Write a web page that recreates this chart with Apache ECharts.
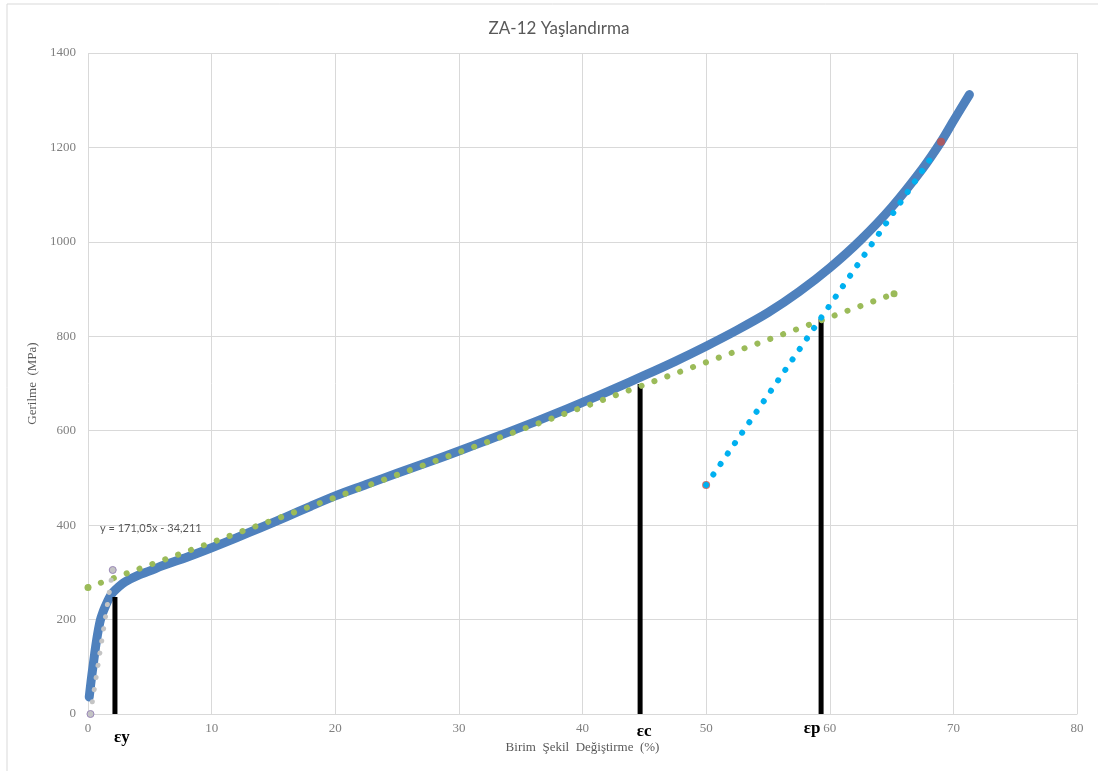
<!DOCTYPE html>
<html>
<head>
<meta charset="utf-8">
<script src="https://cdn.jsdelivr.net/npm/echarts@6/dist/echarts.min.js"></script>
<style>
  html, body { margin: 0; padding: 0; background: #ffffff; }
  #chart { width: 1098px; height: 771px; }
</style>
</head>
<body>
<div id="chart"></div>
<script>
// ---- Data ----
const titleText = 'ZA-12 Yaşlandırma';
const xAxisName = 'Birim  Şekil  Değiştirme  (%)';
const yAxisName = 'Gerilme  (MPa)';

// Main stress-strain curve
const strain = [0.1, 0.25, 0.4, 0.55, 0.7, 0.85, 1.0, 1.2, 1.4, 1.7, 2.0, 2.5, 3.0, 4, 5, 6, 8, 10, 12, 14, 16, 18, 20, 22.5, 25, 27.5, 30, 32.5, 35, 37.5, 40, 42.5, 45, 47.5, 50, 52.5, 55, 57.5, 60, 62.5, 65, 67.5, 69, 70, 71.3];
const stress = [36, 70, 100, 130, 157, 180, 199, 215, 228, 245, 257, 270, 280, 293, 303, 314, 332, 352, 373, 395, 417, 440, 462, 486, 510, 533, 557, 582, 607, 633, 660, 688, 717, 747, 779, 813, 850, 894, 945, 1004, 1073, 1155, 1212, 1256, 1312];

// Elastic fit  y = 171,05x - 34,211
const elasticX = [0.2, 2.0];
const elasticY = [0, 305];
const elasticEq = 'y = 171,05x - 34,211';
const elasticEqPos = [0.97, 393];

// Linear fit of the plastic region (green)
const plasticFitX = [0, 65.2];
const plasticFitY = [268, 890];

// Steep fit of the upper region (cyan)
const upperFitX = [50, 68.6];
const upperFitY = [485, 1193];

// Red marked points
const redX = [50, 69];
const redY = [485, 1212];

// Vertical strain markers
const markerLabels = ['εy', 'εc', 'εp'];
const markerX = [2.18, 44.66, 59.3];
const markerY = [248, 699, 837];

// Axis ranges
const xMin = 0, xMax = 80, xStep = 10;
const yMin = 0, yMax = 1400, yStep = 200;

// ---- Build ----
const zip = (a, b) => a.map((v, i) => [v, b[i]]);
const serif = '"Liberation Serif", "DejaVu Serif", serif';

const series = [
  {
    name: 'curve', type: 'line', data: zip(strain, stress),
    showSymbol: false, smooth: 0.3,
    lineStyle: { color: '#4f81bd', width: 9, cap: 'round', join: 'round' },
    z: 2
  },
  {
    name: 'red', type: 'scatter', data: zip(redX, redY),
    symbolSize: 8, itemStyle: { color: '#c0504d' }, z: 3
  }
];
markerX.forEach((x, i) => {
  series.push({
    name: 'marker' + i, type: 'line', data: [[x, 0], [x, markerY[i]]],
    showSymbol: false,
    lineStyle: { color: '#000000', width: 5, cap: 'butt' }, z: 4
  });
});
series.push(
  {
    name: 'plasticFit', type: 'line', data: zip(plasticFitX, plasticFitY),
    symbol: 'circle', symbolSize: 7, itemStyle: { color: '#9bbb59' },
    lineStyle: { color: '#9bbb59', width: 6, type: [0.1, 13.6], cap: 'round' }, z: 5
  },
  {
    name: 'upperFit', type: 'line', data: zip(upperFitX, upperFitY),
    showSymbol: false,
    lineStyle: { color: '#00b0f0', width: 6, type: [0.1, 12.6], cap: 'round' }, z: 5
  },
  {
    name: 'elasticFit', type: 'line', data: zip(elasticX, elasticY),
    symbol: 'circle', symbolSize: 7,
    itemStyle: { color: '#c4c4c4', borderColor: '#9a88b8', borderWidth: 1 },
    lineStyle: { color: '#c4c4c4', width: 5, type: [0.1, 12.2], cap: 'round' }, z: 6
  }
);

const chart = echarts.init(document.getElementById('chart'), null, { renderer: 'canvas' });
chart.setOption({
  animation: false,
  backgroundColor: '#ffffff',
  title: {
    text: titleText, left: 554, top: 15, textAlign: 'center',
    textStyle: { fontFamily: 'Lato, "Open Sans", sans-serif', fontSize: 17, fontWeight: 'normal', color: '#595959' }
  },
  grid: { left: 88, right: 21, top: 53, bottom: 57, containLabel: false },
  xAxis: {
    type: 'value', min: xMin, max: xMax, interval: xStep,
    name: xAxisName, nameLocation: 'middle', nameGap: 27,
    nameTextStyle: { fontFamily: serif, fontSize: 13, color: '#595959' },
    axisLine: { show: true, lineStyle: { color: '#d9d9d9' } },
    axisTick: { show: false },
    axisLabel: { fontFamily: serif, fontSize: 13, color: '#808080', margin: 8, formatter: v => String(v) },
    splitLine: { show: true, lineStyle: { color: '#d9d9d9', width: 1 } }
  },
  yAxis: {
    type: 'value', min: yMin, max: yMax, interval: yStep,
    name: yAxisName, nameLocation: 'middle', nameGap: 36, nameRotate: 90,
    nameTextStyle: { fontFamily: serif, fontSize: 13, color: '#595959' },
    axisLine: { show: false },
    axisTick: { show: false },
    axisLabel: { fontFamily: serif, fontSize: 13, color: '#808080', margin: 12, formatter: v => String(v) },
    splitLine: { show: true, lineStyle: { color: '#d9d9d9', width: 1 } }
  },
  series: series
});

// Text annotations positioned through the chart's own scales
const labelOffsets = [[7, 24], [4, 18], [-9, 15]];
const graphics = [
  { type: 'line', shape: { x1: 7, y1: 4, x2: 7, y2: 771 }, style: { stroke: '#d9d9d9', lineWidth: 1 }, silent: true },
  { type: 'line', shape: { x1: 7, y1: 4, x2: 1098, y2: 4 }, style: { stroke: '#d9d9d9', lineWidth: 1 }, silent: true }
];
markerX.forEach((x, i) => {
  const p = chart.convertToPixel({ gridIndex: 0 }, [x, 0]);
  graphics.push({
    type: 'text', x: p[0] + labelOffsets[i][0], y: p[1] + labelOffsets[i][1],
    style: { text: markerLabels[i], font: 'bold 17px "Liberation Serif", serif', fill: '#000000', align: 'center', verticalAlign: 'middle' },
    z: 10
  });
});
const eq = chart.convertToPixel({ gridIndex: 0 }, elasticEqPos);
graphics.push({
  type: 'text', x: eq[0], y: eq[1],
  style: { text: elasticEq, font: '11px Lato, "Open Sans", sans-serif', fill: '#595959', align: 'left', verticalAlign: 'middle' },
  z: 10
});
chart.setOption({ graphic: graphics });
</script>
</body>
</html>
